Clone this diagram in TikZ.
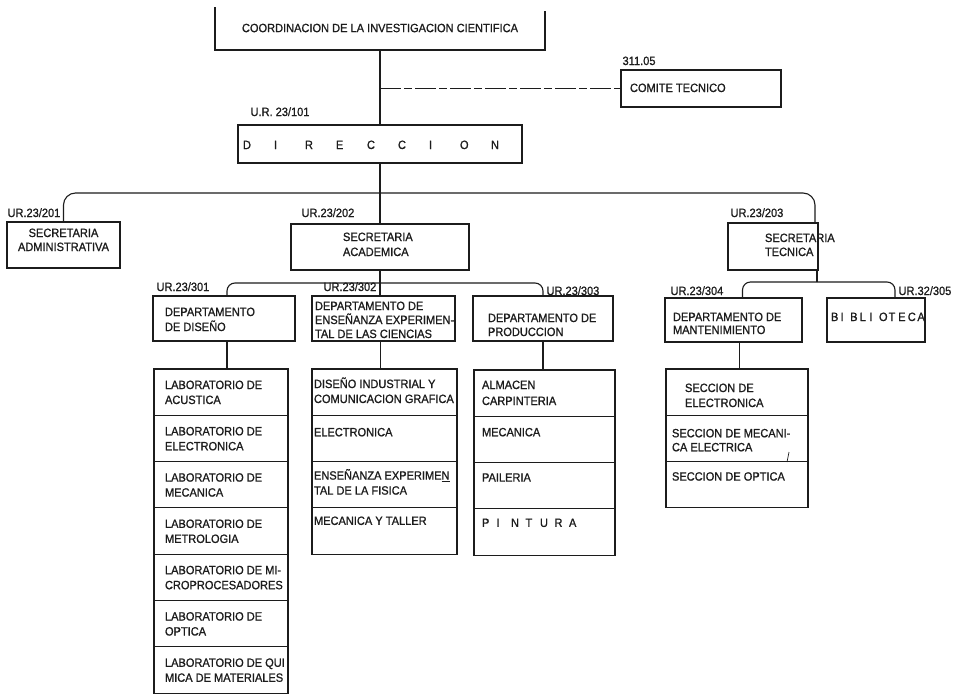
\documentclass[tikz,border=0pt]{standalone}
\usepackage{fontspec}
\setmainfont{Liberation Sans}[FakeStretch=0.92,UprightFeatures={FakeBold=1}]
\usetikzlibrary{calc}
\definecolor{ink}{HTML}{1C1C1C}
\makeatletter
% letters set on a fixed pitch
\newcommand\spaced[2]{\@tfor\spc@c:=#2\do{\makebox[#1][l]{\spc@c}}}
\makeatother
% box body: width, height, left indent, first baseline from top, text
\newcommand\cell[5]{\parbox[c][#2][t]{#1}{\leftskip=#3\relax\rule{0pt}{#4}#5\par}}
\begin{document}
\begin{tikzpicture}[x=1pt,y=-1pt,line width=1.1pt,
  every node/.style={font=\fontsize{12}{15}\selectfont,text=ink},
  unit/.style={draw=ink,inner sep=0pt,outer sep=0pt,anchor=north west},
  code/.style={anchor=base west,inner sep=0pt},
  link/.style={draw=ink},
  advisory/.style={draw=ink,dash pattern=on 21pt off 3pt on 8pt off 3pt}]
\fill[white] (0,0) rectangle (975,696);
\useasboundingbox (0,0) rectangle (975,696);

% ---- top level
\node[inner sep=0pt,outer sep=0pt,minimum width=330pt,minimum height=44pt] (coord) at (380,28)
  {COORDINACION DE LA INVESTIGACION CIENTIFICA};
\draw[link] ([yshift=-1pt]coord.north west) -- (coord.south west) -- (coord.south east) -- ([yshift=-5pt]coord.north east);

\node[unit] (comite) at (621,70) {\cell{160pt}{37pt}{9pt}{22pt}{COMITE TECNICO}};
\node[code] (comitecode) at (622,65) {311.05};

\node[unit] (dir) at (238,125) {\cell{284pt}{38pt}{5pt}{24pt}{\spaced{31pt}{DIRECCION}}};
\node[code] (dircode) at (250,116) {U.R. 23/101};

% ---- secretarias
\node[unit] (sadm) at (7,222) {\cell{113pt}{46pt}{0pt}{15pt}{\baselineskip=14pt\centering SECRETARIA\\ADMINISTRATIVA}};
\node[code] (sadmcode) at (7,217) {UR.23/201};

\node[unit] (sacad) at (291,224) {\cell{178pt}{46pt}{52pt}{17pt}{SECRETARIA\\ACADEMICA}};
\node[code] (sacadcode) at (301,217) {UR.23/202};

\node[unit] (stec) at (728,223) {\cell{90pt}{47pt}{37pt}{19pt}{\baselineskip=14pt SECRETARIA\\TECNICA}};
\node[code] (steccode) at (730,217) {UR.23/203};

% ---- departamentos
\node[unit] (dis) at (153,296) {\cell{142pt}{45pt}{12pt}{20pt}{DEPARTAMENTO\\DE DISEÑO}};
\node[code] (discode) at (156,291) {UR.23/301};

\node[unit] (ens) at (312,296) {\cell{143pt}{45pt}{3pt}{14pt}{\baselineskip=14pt DEPARTAMENTO DE\\ENSEÑANZA EXPERIMEN-\\TAL DE LAS CIENCIAS}};
\node[code] (enscode) at (323,291) {UR.23/302};

\node[unit] (prod) at (473,296) {\cell{140pt}{45pt}{15pt}{26pt}{\baselineskip=14pt DEPARTAMENTO DE\\PRODUCCION}};
\node[code] (prodcode) at (546,295) {UR.23/303};

\node[unit] (mant) at (665,298) {\cell{137pt}{44pt}{8pt}{23pt}{\baselineskip=13pt DEPARTAMENTO DE\\MANTENIMIENTO}};
\node[code] (mantcode) at (670,295) {UR.23/304};

\node[unit] (bib) at (827,298) {\cell{98pt}{44pt}{4pt}{23pt}{\spaced{9.6pt}{BIBLIOTECA}}};
\node[code] (bibcode) at (898,295) {UR.32/305};

% ---- laboratorios (Diseño)
\node[unit] (d1) at (154,369) {\cell{134pt}{46.3pt}{11pt}{20pt}{LABORATORIO DE\\ACUSTICA}};
\node[unit] (d2) at (d1.south west) {\cell{134pt}{46.3pt}{11pt}{20pt}{LABORATORIO DE\\ELECTRONICA}};
\node[unit] (d3) at (d2.south west) {\cell{134pt}{46.3pt}{11pt}{20pt}{LABORATORIO DE\\MECANICA}};
\node[unit] (d4) at (d3.south west) {\cell{134pt}{46.3pt}{11pt}{20pt}{LABORATORIO DE\\METROLOGIA}};
\node[unit] (d5) at (d4.south west) {\cell{134pt}{46.3pt}{11pt}{20pt}{LABORATORIO DE MI-\\CROPROCESADORES}};
\node[unit] (d6) at (d5.south west) {\cell{134pt}{46.3pt}{11pt}{20pt}{LABORATORIO DE\\OPTICA}};
\node[unit] (d7) at (d6.south west) {\cell{134pt}{46.3pt}{11pt}{20pt}{LABORATORIO DE QUI\\MICA DE MATERIALES}};

% ---- areas (Enseñanza experimental)
\node[unit] (e1) at (312,369) {\cell{145pt}{46.3pt}{2pt}{19pt}{DISEÑO INDUSTRIAL Y\\COMUNICACION GRAFICA}};
\node[unit] (e2) at (e1.south west) {\cell{145pt}{46.3pt}{2pt}{21pt}{ELECTRONICA}};
\node[unit] (e3) at (e2.south west) {\cell{145pt}{46.3pt}{2pt}{18pt}{ENSEÑANZA EXPERIME\underline{N}\\TAL DE LA FISICA}};
\node[unit] (e4) at (e3.south west) {\cell{145pt}{46.3pt}{2pt}{17pt}{MECANICA Y TALLER}};

% ---- talleres (Producción)
\node[unit] (p1) at (474,370) {\cell{141pt}{46.3pt}{8pt}{19pt}{\baselineskip=16pt ALMACEN\\CARPINTERIA}};
\node[unit] (p2) at (p1.south west) {\cell{141pt}{46.3pt}{8pt}{20pt}{MECANICA}};
\node[unit] (p3) at (p2.south west) {\cell{141pt}{46.3pt}{8pt}{19pt}{PAILERIA}};
\node[unit] (p4) at (p3.south west) {\cell{141pt}{46.3pt}{8pt}{18pt}{\spaced{14.5pt}{PINTURA}}};

% ---- secciones (Mantenimiento)
\node[unit] (m1) at (666,369) {\cell{142pt}{46.3pt}{19pt}{23pt}{SECCION DE\\ELECTRONICA}};
\node[unit] (m2) at (m1.south west) {\cell{142pt}{46.3pt}{6pt}{22pt}{\baselineskip=14pt SECCION DE MECANI-\\CA ELECTRICA}};
\node[unit] (m3) at (m2.south west) {\cell{142pt}{46.3pt}{6pt}{19pt}{SECCION DE OPTICA}};

% ---- connectors
\coordinate (bus) at (380,193);
\coordinate (acbus) at (380,283);
\coordinate (tcbus) at (817,282);

\draw[link] (coord.south) -- (coord.south |- dir.north);
\draw[advisory] (coord.south |- comite.west) -- (comite.west);
\draw[link] (dir.south) -- (dir.south |- sacad.north);
\draw[link,rounded corners=12pt] (sadm.north) |- (bus) -| ([xshift=-3pt]stec.north east);

\draw[link] (sacad.south) -- (sacad.south |- ens.north);
\draw[link,rounded corners=8pt] ([xshift=3pt]dis.north) |- (acbus) -| (prod.north);

\draw[link] (stec.south -| tcbus) -- (tcbus);
\draw[link,rounded corners=8pt] ([xshift=9pt]mant.north) |- (tcbus) -| ([xshift=19pt]bib.north);

\draw[link] ([xshift=3pt]dis.south) -- ([xshift=3pt]dis.south |- d1.north);
\draw[link] ([xshift=-3pt]ens.south) -- ([xshift=-3pt]ens.south |- e1.north);
\draw[link] (prod.south) -- (prod.south |- p1.north);
\draw[link] ([xshift=6pt]mant.south) -- ([xshift=6pt]mant.south |- m1.north);

% pen mark on the mechanics section
\draw[link,line width=0.7pt] (787,462) -- (789,452);
\end{tikzpicture}
\end{document}
